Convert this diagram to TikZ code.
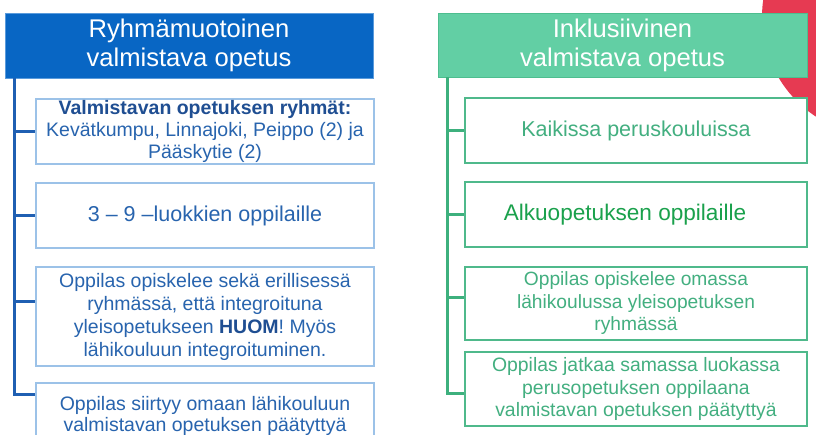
\documentclass[tikz,border=0pt]{standalone}
\usepackage{fontspec}
\setmainfont{Liberation Sans}
\usetikzlibrary{calc}
\definecolor{bhead}{HTML}{0866C4}
\definecolor{bheadline}{HTML}{5A9BDC}
\definecolor{bspine}{HTML}{1F5FB2}
\definecolor{bbox}{HTML}{9CC2E8}
\definecolor{btext}{HTML}{2864AE}
\definecolor{btitle}{HTML}{1F4E92}
\definecolor{ghead}{HTML}{62CFA4}
\definecolor{gheadline}{HTML}{4DBE8F}
\definecolor{gspine}{HTML}{3DB07D}
\definecolor{gbox}{HTML}{4FB98B}
\definecolor{gtext}{HTML}{43AF80}
\definecolor{gtextb}{HTML}{1AA14C}
\definecolor{redc}{HTML}{E63A52}
\tikzset{
  headbox/.style={rectangle, inner sep=0pt, align=center, text=white,
    font=\fontsize{25.6}{29}\selectfont},
  lhead/.style={headbox, fill=bhead, draw=bheadline, line width=0.8pt},
  rhead/.style={headbox, fill=ghead, draw=gheadline, line width=0.8pt},
  lbox/.style={rectangle, inner sep=0pt, align=center, fill=white, draw=bbox,
    line width=1.5pt, text=btext, minimum width=338pt},
  rbox/.style={rectangle, inner sep=0pt, align=center, fill=white, draw=gbox,
    line width=1.5pt, text=gtext, minimum width=342pt},
  lspine/.style={draw=bspine, line width=3pt},
  rspine/.style={draw=gspine, line width=3pt},
}
\begin{document}
\begin{tikzpicture}[x=1pt,y=-1pt]
\useasboundingbox (0,0) rectangle (816,435);
\clip (0,0) rectangle (816,435);
% red circle in the corner
\fill[redc] (881,17) circle (119pt);
% ---------- left column ----------
\node[lhead, minimum width=368pt, minimum height=65pt] (lh) at (189,45.5)
  {Ryhmämuotoinen\\valmistava opetus};
\node[lbox, minimum height=65pt, font=\fontsize{19.5}{22}\selectfont] (l1) at (205,131.5)
  {\textcolor{btitle}{\textbf{Valmistavan opetuksen ryhmät:}}\\Kevätkumpu, Linnajoki, Peippo (2) ja\\Pääskytie (2)};
\node[lbox, minimum height=65pt, font=\fontsize{21.5}{25}\selectfont] (l2) at (205,215.5)
  {3 – 9 –luokkien oppilaille};
\node[lbox, minimum height=99pt, font=\fontsize{19.5}{23}\selectfont] (l3) at (205,316.5)
  {Oppilas opiskelee sekä erillisessä\\ryhmässä, että integroituna\\yleisopetukseen \textcolor{btitle}{\textbf{HUOM}}! Myös\\lähikouluun integroituminen.};
\node[lbox, minimum height=65pt, font=\fontsize{19.5}{21}\selectfont] (l4) at (205,415.5)
  {Oppilas siirtyy omaan lähikouluun\\valmistavan opetuksen päätyttyä};
\coordinate (lsTop) at ($(lh.south west)+(10,0)$);
\draw[lspine] (lsTop) |- ($(l4.north west)+(0,12)$);
\draw[lspine] (lsTop |- l1.west) -- (l1.west);
\draw[lspine] (lsTop |- l2.west) -- (l2.west);
\draw[lspine] (lsTop |- {$(l3.north west)+(0,35)$}) -- ($(l3.north west)+(0,35)$);
% ---------- right column ----------
\node[rhead, minimum width=369pt, minimum height=64pt] (rh) at (622.5,45)
  {Inklusiivinen\\valmistava opetus};
\node[rbox, minimum height=65pt, font=\fontsize{21.5}{25}\selectfont] (r1) at (636,130.5)
  {Kaikissa peruskouluissa};
\node[rbox, minimum height=65pt, font=\fontsize{22.6}{26}\selectfont, text=gtextb] (r2) at (636,214.5)
  {Alkuopetuksen oppilaille\hspace*{22pt}};
\node[rbox, minimum height=73pt, font=\fontsize{19.2}{22.5}\selectfont] (r3) at (636,303.5)
  {Oppilas opiskelee omassa\\lähikoulussa yleisopetuksen\\ryhmässä};
\node[rbox, minimum height=74pt, font=\fontsize{19.4}{22.5}\selectfont] (r4) at (636,389)
  {Oppilas jatkaa samassa luokassa\\perusopetuksen oppilaana\\valmistavan opetuksen päätyttyä};
\coordinate (rsTop) at ($(rh.south west)+(10,0)$);
\draw[rspine] (rsTop) |- ($(r4.west)+(0,4)$);
\draw[rspine] (rsTop |- r1.west) -- (r1.west);
\draw[rspine] (rsTop |- r2.west) -- (r2.west);
\draw[rspine] (rsTop |- {$(r3.west)+(0,-6)$}) -- ($(r3.west)+(0,-6)$);
\end{tikzpicture}
\end{document}
